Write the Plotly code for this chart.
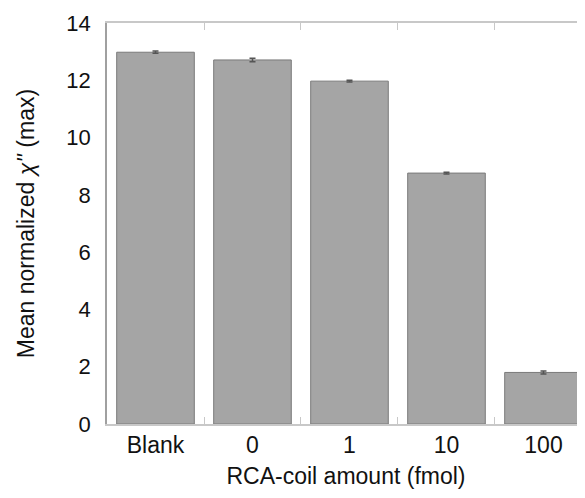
import plotly.graph_objects as go

categories = ["Blank", "0", "1", "10", "100"]
values = [12.98, 12.71, 11.97, 8.76, 1.80]
errors = [0.04, 0.06, 0.03, 0.03, 0.05]
y_ticks = [0, 2, 4, 6, 8, 10, 12, 14]

fig = go.Figure()
fig.add_trace(go.Bar(
    x=categories, y=values,
    width=0.8,
    marker=dict(color="#a5a5a5", line=dict(color="#7a7a7a", width=1)),
    error_y=dict(type="data", array=errors, color="#555555", thickness=1.5, width=3),
))

# page has an 8px body margin; figure sized so it reaches the window's right edge
fig.update_layout(
    width=577, height=482,
    margin=dict(l=99, r=0, t=15, b=66),
    paper_bgcolor="white", plot_bgcolor="white",
    font=dict(family="Arial, Liberation Sans, sans-serif", size=22, color="#111111"),
    showlegend=False,
    xaxis=dict(
        type="category",
        automargin=False,
        range=[-0.5, 4.428],
        tickson="boundaries",
        ticks="inside", ticklen=7, tickcolor="#c8c8c8",
        showline=True, linecolor="#c8c8c8", linewidth=1.5, mirror="ticks",
        showgrid=False,
        title=dict(text="RCA-coil amount (fmol)", standoff=11, font=dict(size=23)),
        tickfont=dict(size=23),
    ),
    yaxis=dict(
        automargin=False,
        range=[0, 14],
        tickvals=y_ticks,
        ticks="", showgrid=False, zeroline=False,
        showline=True, linecolor="#a0a0a0", linewidth=1.5,
        ticklabelstandoff=10,
        title=dict(text="Mean normalized <i>χ''</i> (max)", standoff=25, font=dict(size=23)),
        tickfont=dict(size=22),
    ),
)

fig.write_html("out.html")
